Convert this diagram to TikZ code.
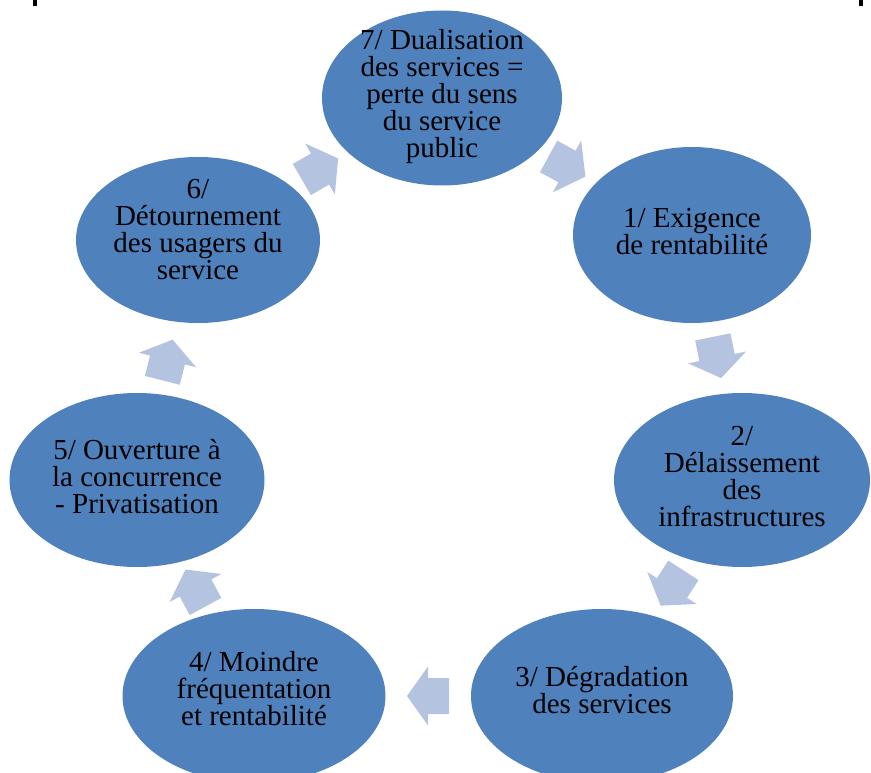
\documentclass[tikz,border=0pt]{standalone}
\usepackage{fontspec}
\setmainfont{Liberation Serif}
\usepackage{tikz}
\usetikzlibrary{shapes,calc}
\definecolor{cycleblue}{RGB}{79,129,189}
\definecolor{arrowblue}{RGB}{180,196,224}
\tikzstyle{stage} = [ellipse, fill=cycleblue, inner sep=0pt]
\tikzstyle{stagetext} = [align=center, inner sep=0pt, font=\fontsize{29}{27}\selectfont]
% block arrow halfway between two stages, pointing from #1 to #2
\newcommand{\cyclearrow}[2]{%
	\pgfmathanglebetweenpoints{\pgfpointanchor{#1}{center}}{\pgfpointanchor{#2}{center}}%
	\let\arrowangle\pgfmathresult
	\fill[arrowblue, shift={($(#1)!0.5!(#2)$)}, rotate=\arrowangle]
		(-21,-18) -- (0,-18) -- (0,-29.5) -- (21,0) -- (0,29.5) -- (0,18) -- (-21,18) -- cycle;}

\begin{document}
\begin{tikzpicture}[x=1pt,y=-1pt]
	\useasboundingbox (0,0) rectangle (871,773);
	\clip (0,0) rectangle (871,773);

	% ------------------- Ellipses ------------------- %
	\node[stage, minimum width=240pt, minimum height=175pt] (e7) at (442,98) {};
	\node[stage, minimum width=238pt, minimum height=176pt] (e1) at (692,235) {};
	\node[stage, minimum width=256pt, minimum height=174pt] (e2) at (742,480) {};
	\node[stage, minimum width=262pt, minimum height=174pt] (e3) at (602,696) {};
	\node[stage, minimum width=263pt, minimum height=174pt] (e4) at (254,696) {};
	\node[stage, minimum width=255pt, minimum height=174pt] (e5) at (137,480) {};
	\node[stage, minimum width=244pt, minimum height=166pt] (e6) at (198,240) {};

	% ------------------- Texts ------------------- %
	\node[stagetext] at (442,97) {7/ Dualisation\\des services =\\perte du sens\\du service\\public};
	\node[stagetext] at (692,232) {1/ Exigence\\de rentabilité};
	\node[stagetext] at (742,477) {2/\\Délaissement\\des\\infrastructures};
	\node[stagetext] at (602,690) {3/ Dégradation\\des services};
	\node[stagetext] at (254,689) {4/ Moindre\\fréquentation\\et rentabilité};
	\node[stagetext] at (137,477) {5/ Ouverture à\\la concurrence\\- Privatisation};
	\node[stagetext] at (198,230) {6/\\Détournement\\des usagers du\\service};

	% ------------------- Arrows between stages ------------------- %
	\cyclearrow{e7}{e1}
	\cyclearrow{e1}{e2}
	\cyclearrow{e2}{e3}
	\cyclearrow{e3}{e4}
	\cyclearrow{e4}{e5}
	\cyclearrow{e5}{e6}
	\cyclearrow{e6}{e7}

	% cut strokes on the top edge
	\fill (33,0) rectangle (37,6);
	\fill (859,0) rectangle (863,6);
\end{tikzpicture}
\end{document}
